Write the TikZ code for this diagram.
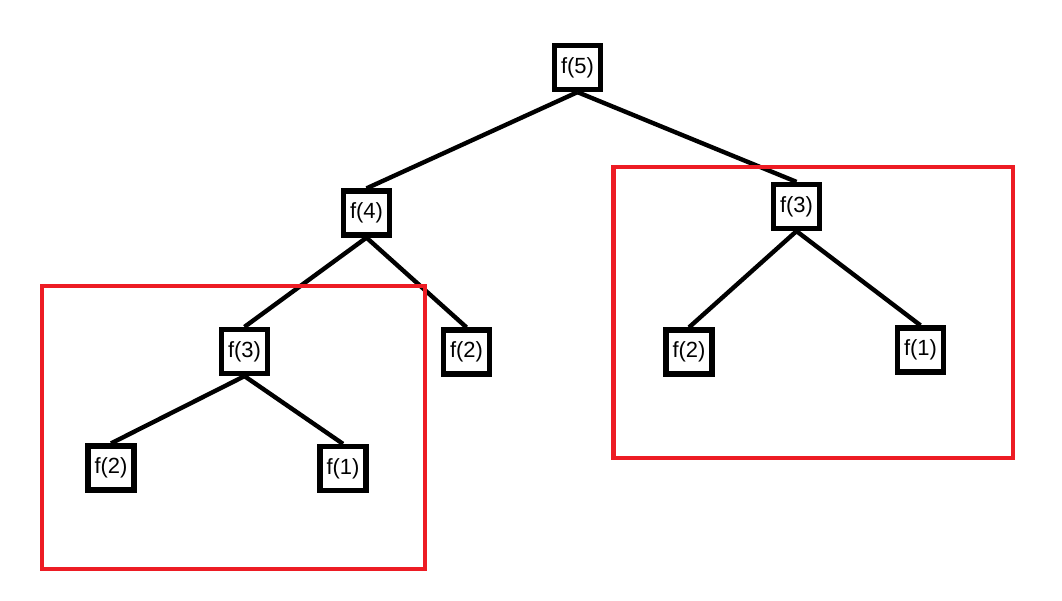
\documentclass[tikz,border=0pt]{standalone}
\usepackage{fontspec}
\setmainfont{Liberation Sans}
\definecolor{paintred}{HTML}{ED1C24}
\begin{document}
\begin{tikzpicture}[x=0.02cm,y=-0.02cm,
  fbox/.style={draw=black,line width=3pt,fill=white,minimum width=0.92cm,minimum height=0.88cm,inner sep=0pt,font=\fontsize{12.5}{14}\selectfont},
  edge/.style={line width=2.5pt,black},
  redbox/.style={draw=paintred,line width=2.8pt}]
\useasboundingbox (0,0) rectangle (1062,600);
\node[fbox] (f5) at (577.5,67.5) {f(5)};
\node[fbox] (f4) at (366.5,213) {f(4)};
\node[fbox] (f3r) at (796.5,206.5) {f(3)};
\node[fbox] (f3l) at (244.5,351.5) {f(3)};
\node[fbox] (f2m) at (466.5,352) {f(2)};
\node[fbox] (f2r) at (689,352) {f(2)};
\node[fbox] (f1r) at (920.5,350) {f(1)};
\node[fbox] (f2l) at (111,468) {f(2)};
\node[fbox] (f1l) at (343,468.5) {f(1)};
\draw[edge] (f5.south) -- (f4.north);
\draw[edge] (f5.south) -- (f3r.north);
\draw[edge] (f4.south) -- (f3l.north);
\draw[edge] (f4.south) -- (f2m.north);
\draw[edge] (f3r.south) -- (f2r.north);
\draw[edge] (f3r.south) -- (f1r.north);
\draw[edge] (f3l.south) -- (f2l.north);
\draw[edge] (f3l.south) -- (f1l.north);
\draw[redbox] (42,286) rectangle (425,569);
\draw[redbox] (613.5,167) rectangle (1013,458);
\end{tikzpicture}
\end{document}
